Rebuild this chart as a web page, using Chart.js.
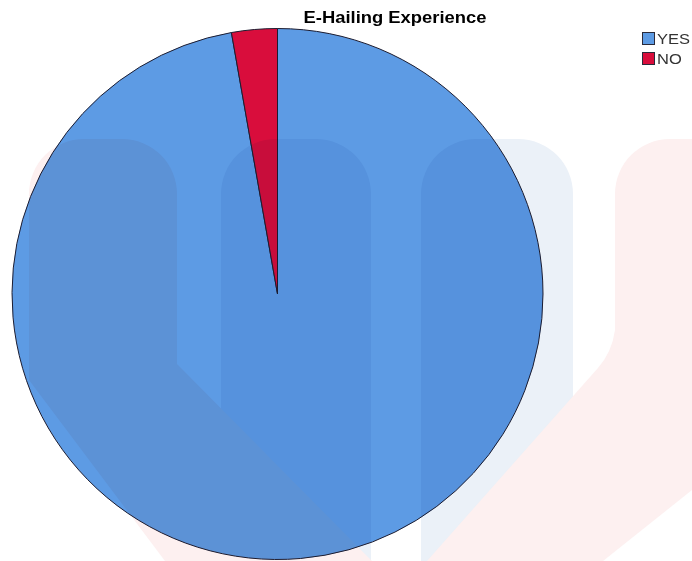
<!DOCTYPE html>
<html>
<head>
<meta charset="utf-8">
<script src="https://cdn.jsdelivr.net/npm/chart.js@4.4.1/dist/chart.umd.min.js"></script>
<style>
  html, body { margin: 0; padding: 0; background: #ffffff; }
  #wrap { position: relative; width: 692px; height: 561px; }
  canvas { display: block; }
</style>
</head>
<body>
<div id="wrap"><canvas id="c" width="692" height="561"></canvas></div>
<script>
const chartTitle = "E-Hailing Experience";
const categories = ["YES", "NO"];
const counts = [35, 1];
const sliceColors = ["#5d9be4", "#d90d3c"];

// faint background watermark (decoration only), multiplied over the chart
function buildWatermark(w, h) {
  const off = document.createElement("canvas");
  off.width = w; off.height = h;
  const c = off.getContext("2d");
  c.fillStyle = "#ffffff";
  c.fillRect(0, 0, w, h);
  const r = 55;
  // pale blue columns
  c.fillStyle = "#ebf1f8";
  c.beginPath();
  c.roundRect(221, 139, 150, 440, [r, r, 0, 0]);
  c.roundRect(421, 139, 152, 440, [r, r, 0, 0]);
  c.fill();
  // pale red left leg
  c.fillStyle = "#fdf0f0";
  c.beginPath();
  c.moveTo(29, 380);
  c.lineTo(29, 139 + r);
  c.arcTo(29, 139, 29 + r, 139, r);
  c.lineTo(177 - r, 139);
  c.arcTo(177, 139, 177, 139 + r, r);
  c.lineTo(177, 364);
  c.lineTo(357, 546);
  c.lineTo(372, 561);
  c.lineTo(165, 561);
  c.closePath();
  c.fill();
  // pale red right band
  c.beginPath();
  c.moveTo(692, 139);
  c.lineTo(615 + r, 139);
  c.arcTo(615, 139, 615, 139 + r, r);
  c.lineTo(615, 330);
  c.quadraticCurveTo(612, 352, 598, 368);
  c.lineTo(427, 561);
  c.lineTo(603, 561);
  c.lineTo(692, 490);
  c.closePath();
  c.fill();
  return off;
}

const watermarkPlugin = {
  id: "watermark",
  afterDatasetsDraw(chart) {
    const ctx = chart.ctx;
    const wm = buildWatermark(chart.width, chart.height);
    ctx.save();
    ctx.globalCompositeOperation = "multiply";
    ctx.drawImage(wm, 0, 0);
    ctx.restore();
  }
};

function stretchedText(ctx, text, x, y, width, align) {
  const w = ctx.measureText(text).width;
  const s = width / w;
  ctx.save();
  const left = align === "center" ? x - width / 2 : x;
  ctx.translate(left, y);
  ctx.scale(s, 1);
  ctx.textAlign = "left";
  ctx.fillText(text, 0, 0);
  ctx.restore();
}

const overlayPlugin = {
  id: "overlay",
  afterDraw(chart) {
    const ctx = chart.ctx;
    ctx.save();
    ctx.fillStyle = "#000000";
    ctx.font = "bold 17px 'Liberation Sans', Arial, sans-serif";
    ctx.textBaseline = "alphabetic";
    stretchedText(ctx, chartTitle, 395, 22.5, 183, "center");
    ctx.font = "15px 'Liberation Sans', Arial, sans-serif";
    categories.forEach((name, i) => {
      const y = 32 + i * 20;
      ctx.fillStyle = sliceColors[i];
      ctx.fillRect(642, y, 13, 13);
      ctx.strokeStyle = "#2a2a3a";
      ctx.lineWidth = 1;
      ctx.strokeRect(642.5, y + 0.5, 12, 12);
      ctx.fillStyle = "#333333";
      const w = ctx.measureText(name).width * 1.1;
      stretchedText(ctx, name, 657, y + 12, w, "left");
    });
    ctx.restore();
  }
};

new Chart(document.getElementById("c"), {
  type: "pie",
  data: {
    labels: categories,
    datasets: [{
      data: counts,
      backgroundColor: sliceColors,
      borderColor: "#1c1c30",
      borderWidth: 1
    }]
  },
  options: {
    responsive: false,
    animation: false,
    layout: { padding: { left: 11, right: 148, top: 28, bottom: 1 } },
    plugins: {
      legend: { display: false },
      title: { display: false },
      tooltip: { enabled: false }
    }
  },
  plugins: [watermarkPlugin, overlayPlugin]
});
</script>
</body>
</html>
